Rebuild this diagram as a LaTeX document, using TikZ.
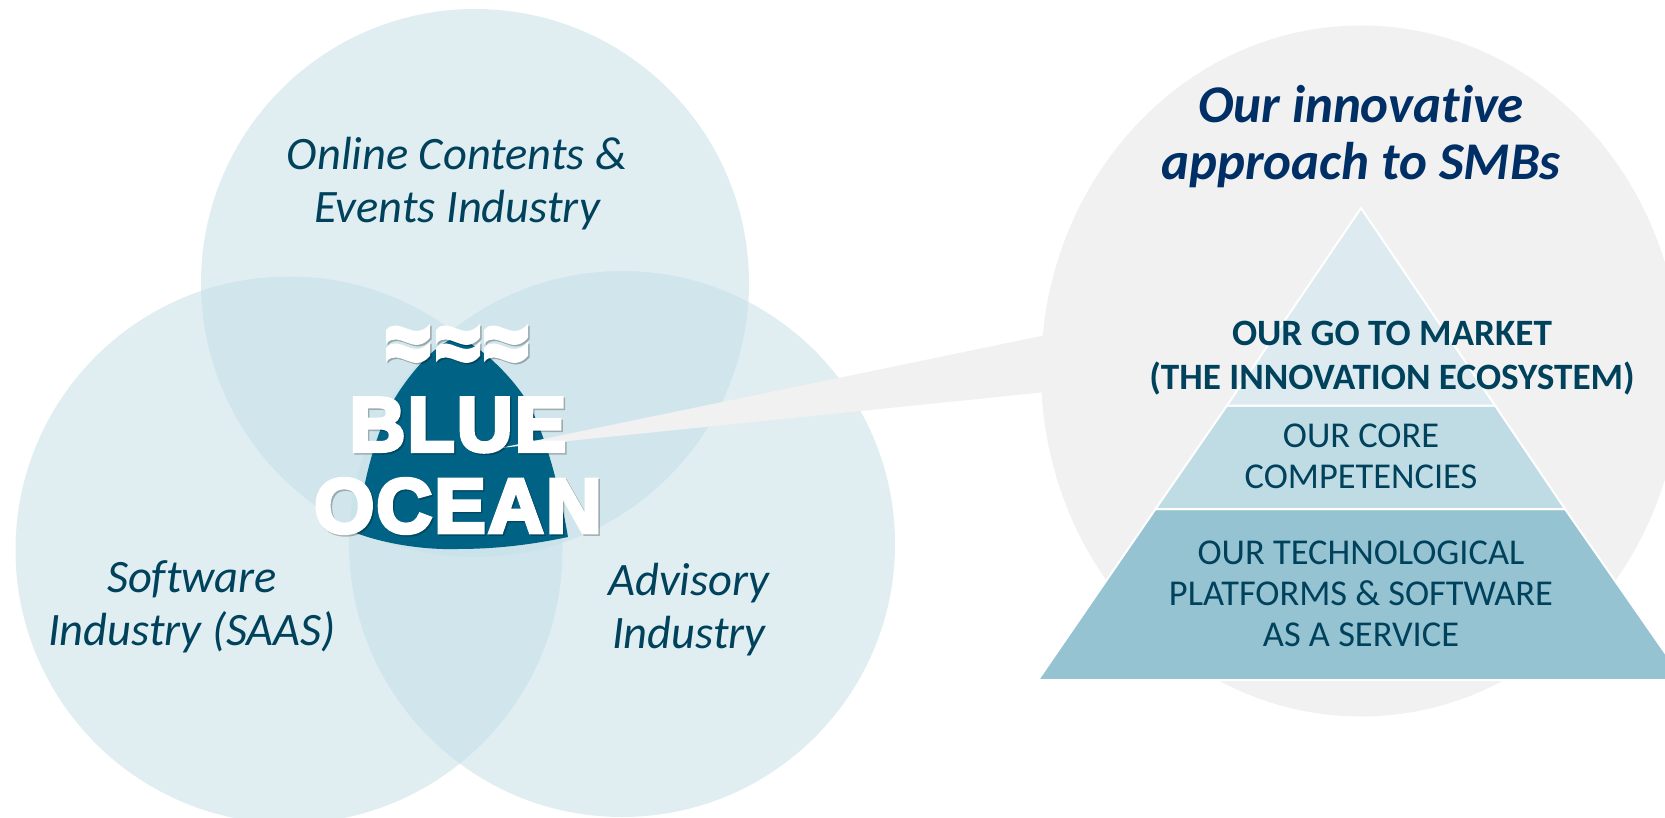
\documentclass[tikz,border=0pt]{standalone}
\usepackage{fontspec}
\setmainfont{Carlito}[Ligatures=NoCommon]
\newfontfamily\blackfont{Liberation Sans}[Scale=1,FakeBold=5,LetterSpace=3]
\usetikzlibrary{calc}
\definecolor{venn}{HTML}{C3DEE6}
\definecolor{greyball}{HTML}{F1F1F1}
\definecolor{oceanblue}{HTML}{006285}
\definecolor{darktext}{HTML}{00415C}
\definecolor{navytext}{HTML}{002F66}
\definecolor{layera}{HTML}{DDEBF0}
\definecolor{layerb}{HTML}{BFDBE4}
\definecolor{layerc}{HTML}{96C3D2}
\tikzset{
  vennball/.style={fill=venn,opacity=0.52},
  industry/.style={anchor=center,align=center,text=darktext,font=\fontsize{46.5}{53}\selectfont\itshape},
  pyrlayer/.style={draw=white,line width=2pt,line join=miter},
  pyrtext/.style={anchor=center,align=center,text=darktext,font=\fontsize{36.4}{41}\selectfont},
  oceantext/.style={anchor=center,align=center,text=white,font=\fontsize{77}{81}\blackfont\bfseries},
  oceanshadow/.style={oceantext,text=black,text opacity=0.25},
}
\newcommand{\waveband}[3]{%
  \fill[#3] (#1,#2+4) .. controls (#1+13,#2-11) and (#1+27,#2+17) .. (#1+44,#2-2)
    -- (#1+44,#2+12) .. controls (#1+27,#2+31) and (#1+13,#2+3) .. (#1,#2+18) -- cycle;}

\begin{document}
\begin{tikzpicture}[x=1pt,y=-1pt]
\useasboundingbox (0,0) rectangle (1665,818);
\clip (0,0) rectangle (1665,818);

% the three industries
\fill[vennball] (475,283) circle (274);
\fill[vennball] (289,550) circle (273.5);
\fill[vennball] (622,544) circle (273);

% the drop
\fill[oceanblue] (457,337) .. controls (432,345) and (405,380) .. (392,403)
  .. controls (378,432) and (366,465) .. (356,533)
  .. controls (385,544) and (425,550) .. (457,549)
  .. controls (495,549) and (530,545) .. (568,537)
  .. controls (560,490) and (545,430) .. (525,398)
  .. controls (510,375) and (480,345) .. (457,337) -- cycle;

% big grey ball and its pointer
\fill[greyball] (1361,371) ellipse (320 and 345.5);
\coordinate (pointertip) at (500,448);
\coordinate (pointerup) at (1046,335);
\coordinate (pointerlow) at (1046,392);
\fill[greyball] (pointertip) -- (pointerup) -- (pointerlow) -- cycle;

% waves
\foreach \x in {386,436,484}
         {
           \waveband{\x+1.5}{326+1.5}{black,opacity=0.28}
           \waveband{\x+1.5}{344+1.5}{black,opacity=0.28}
           \waveband{\x}{326}{white}
           \waveband{\x}{344}{white}
         }

\node[oceanshadow] (blueshadow) at (459.5,426.5) {BLUE};
\node[oceanshadow] (oceanshadow) at (459.5,507.5) {OCEAN};
\node[oceantext] (bluelabel) at (458,425) {BLUE};
\node[oceantext] (oceanlabel) at (458,506) {OCEAN};

\node[industry] (online) at (457,184) {Online Contents \&\\Events Industry};
\node[industry] (software) at (192,607) {Software\\Industry (SAAS)};
\node[industry] (advisory) at (689,610) {Advisory\\Industry};

% pyramid
\coordinate (apex) at (1361,208);
\coordinate (upleft) at (1227,405.5);
\coordinate (upright) at (1495,405.5);
\coordinate (midleft) at (1155.5,509);
\coordinate (midright) at (1565,509);
\coordinate (baseleft) at (1038,680);
\coordinate (baseright) at (1684,680);
\filldraw[pyrlayer,fill=layerc] (midleft) -- (midright) -- (baseright) -- (baseleft) -- cycle;
\filldraw[pyrlayer,fill=layerb] (upleft) -- (upright) -- (midright) -- (midleft) -- cycle;
\filldraw[pyrlayer,fill=layera] (apex) -- (upright) -- (upleft) -- cycle;

\node[anchor=center,align=center,text=navytext,font=\fontsize{53}{57}\selectfont\bfseries\itshape] (title) at (1361,137) {Our innovative\\approach to SMBs};
\node[pyrtext,font=\fontsize{37.2}{44}\selectfont\bfseries] (market) at (1392,358) {OUR GO TO MARKET\\(THE INNOVATION ECOSYSTEM)};
\node[pyrtext] (core) at (1361,456) {OUR CORE\\COMPETENCIES};
\node[pyrtext] (platforms) at (1361,594) {OUR TECHNOLOGICAL\\PLATFORMS \& SOFTWARE\\AS A SERVICE};
\end{tikzpicture}
\end{document}
